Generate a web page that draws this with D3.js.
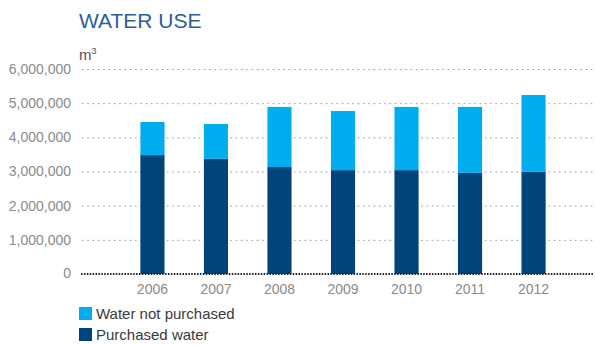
<!DOCTYPE html>
<html>
<head>
<meta charset="utf-8">
<script src="https://cdn.jsdelivr.net/npm/d3@7/dist/d3.min.js"></script>
<style>
  html, body { margin: 0; padding: 0; background: #fff; }
  svg { display: block; font-family: "Liberation Sans", Arial, sans-serif; }
</style>
</head>
<body>
<svg id="chart" width="595" height="345"></svg>
<script>
// Annual water use, m3
const years = ["2006", "2007", "2008", "2009", "2010", "2011", "2012"];
const purchased = [3480000, 3370000, 3130000, 3040000, 3040000, 2960000, 2990000];
const notPurchased = [970000, 1020000, 1760000, 1730000, 1850000, 1930000, 2250000];
const yTicks = [0, 1000000, 2000000, 3000000, 4000000, 5000000, 6000000];
const seriesNames = ["Water not purchased", "Purchased water"];
const seriesColors = { "Water not purchased": "#00adee", "Purchased water": "#00447c" };

const svg = d3.select("#chart");

const rows = years.map((y, i) => ({
  year: y,
  "Purchased water": purchased[i],
  "Water not purchased": notPurchased[i]
}));

const x = d3.scaleBand().domain(years).range([101, 585]).padding(0.62);
const y = d3.scaleLinear().domain([0, 6000000]).range([274, 69]);

// Title
svg.append("text")
  .attr("x", 79).attr("y", 28)
  .attr("fill", "#2b5e9b")
  .attr("font-size", 21)
  .text("WATER USE");

// Unit label
const unit = svg.append("text")
  .attr("x", 79).attr("y", 60)
  .attr("fill", "#555")
  .attr("font-size", 15);
unit.append("tspan").text("m");
unit.append("tspan").attr("font-size", 9).attr("dy", -6).text("3");

// Y axis: dotted gridlines and labels
const yAxis = d3.axisLeft(y)
  .tickValues(yTicks.filter(d => d > 0))
  .tickSize(0)
  .tickPadding(0)
  .tickFormat(d3.format(","));

const gy = svg.append("g").call(yAxis);
gy.select(".domain").remove();
gy.selectAll(".tick text")
  .attr("x", 71)
  .attr("fill", "#8a8a8a")
  .attr("font-size", 14)
  .attr("font-family", "Liberation Sans, Arial, sans-serif");
gy.selectAll(".tick line").remove();
gy.selectAll(".tick").append("line")
  .attr("x1", 82).attr("x2", 594)
  .attr("stroke", "#999")
  .attr("stroke-width", 1)
  .attr("stroke-dasharray", "1.6,3.7");

// Zero label
svg.append("text")
  .attr("x", 71).attr("y", y(0))
  .attr("dy", "0.32em")
  .attr("text-anchor", "end")
  .attr("fill", "#8a8a8a")
  .attr("font-size", 14)
  .text(d3.format(",")(yTicks[0]));

// Stacked bars
const stack = d3.stack().keys(["Purchased water", "Water not purchased"]);
const layers = stack(rows);

svg.append("g").selectAll("g")
  .data(layers)
  .join("g")
  .attr("fill", d => seriesColors[d.key])
  .selectAll("rect")
  .data(d => d)
  .join("rect")
  .attr("x", d => x(d.data.year))
  .attr("width", x.bandwidth())
  .attr("y", d => y(d[1]))
  .attr("height", d => y(d[0]) - y(d[1]));

// Baseline
svg.append("line")
  .attr("x1", 81).attr("x2", 594)
  .attr("y1", y(0)).attr("y2", y(0))
  .attr("stroke", "#222")
  .attr("stroke-width", 2)
  .attr("stroke-dasharray", "1.5,1.4");

// X axis labels
const xAxis = d3.axisBottom(x).tickSize(0).tickPadding(0);
const gx = svg.append("g").attr("transform", "translate(0,284)").call(xAxis);
gx.select(".domain").remove();
gx.selectAll(".tick text")
  .attr("fill", "#8a8a8a")
  .attr("font-size", 14)
  .attr("font-family", "Liberation Sans, Arial, sans-serif");

// Legend
const legend = svg.append("g").selectAll("g")
  .data(seriesNames)
  .join("g")
  .attr("transform", (d, i) => `translate(79,${307 + i * 21})`);
legend.append("rect")
  .attr("width", 13).attr("height", 13)
  .attr("fill", d => seriesColors[d]);
legend.append("text")
  .attr("x", 17).attr("y", 12)
  .attr("fill", "#3a3a3a")
  .attr("font-size", 15)
  .text(d => d);
</script>
</body>
</html>
